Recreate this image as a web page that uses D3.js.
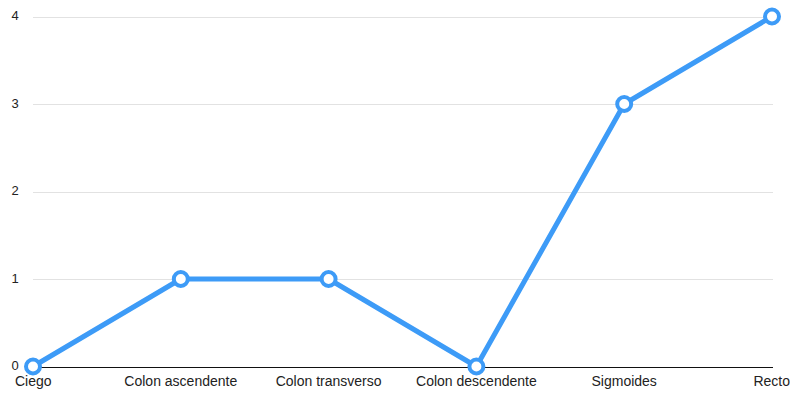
<!DOCTYPE html>
<html><head><meta charset="utf-8">
<script src="https://cdn.jsdelivr.net/npm/d3@7"></script>
<style>body{margin:0;background:#fff}svg{display:block}text{font-family:"Liberation Sans",Arial,sans-serif}</style>
</head><body>
<svg id="chart" width="790" height="393"></svg>
<script>
const categories = ["Ciego","Colon ascendente","Colon transverso","Colon descendente","Sigmoides","Recto"];
const values = [0,1,1,0,3,4];
const yTicks = [0,1,2,3,4];

const svg = d3.select("#chart");
const plotLeft = 33, plotRight = 772, plotTop = 16.5, plotBottom = 366.5;

const x = d3.scalePoint().domain(categories).range([plotLeft, plotRight]);
const y = d3.scaleLinear().domain([0,4]).range([plotBottom, plotTop]);

// horizontal gridlines
svg.append("g").selectAll("line").data(yTicks.filter(d => d > 0)).join("line")
  .attr("x1", plotLeft).attr("x2", plotRight + 1)
  .attr("y1", d => Math.round(y(d)) + 0.5).attr("y2", d => Math.round(y(d)) + 0.5)
  .attr("stroke", "#e2e2e2").attr("stroke-width", 1);

// y tick labels
svg.append("g").selectAll("text").data(yTicks).join("text")
  .attr("x", 15).attr("y", d => y(d) - 1).attr("dy", "0.35em")
  .attr("text-anchor", "middle").attr("font-size", 13).attr("fill", "#222")
  .text(d => d);

// baseline
svg.append("line").attr("x1", plotLeft).attr("x2", plotRight + 1)
  .attr("y1", Math.round(plotBottom) + 0.5).attr("y2", Math.round(plotBottom) + 0.5)
  .attr("stroke", "#111").attr("stroke-width", 1);

// x labels
svg.append("g").selectAll("text").data(categories).join("text")
  .attr("x", d => x(d)).attr("y", 386)
  .attr("text-anchor", (d, i) => i === 0 ? "start" : (i === categories.length - 1 ? "end" : "middle"))
  .attr("dx", (d, i) => i === 0 ? -18 : (i === categories.length - 1 ? 18 : 0))
  .attr("font-size", 14).attr("fill", "#222")
  .text(d => d);

const data = categories.map((c, i) => ({c, v: values[i]}));
const color = "#3d9bf7";

svg.append("path").datum(data)
  .attr("d", d3.line().x(d => x(d.c)).y(d => y(d.v)))
  .attr("fill", "none").attr("stroke", color).attr("stroke-width", 5)
  .attr("stroke-linejoin", "round");

svg.append("g").selectAll("circle").data(data).join("circle")
  .attr("cx", d => x(d.c)).attr("cy", d => y(d.v)).attr("r", 7)
  .attr("fill", "#fff").attr("stroke", color).attr("stroke-width", 4);
</script>
</body></html>
